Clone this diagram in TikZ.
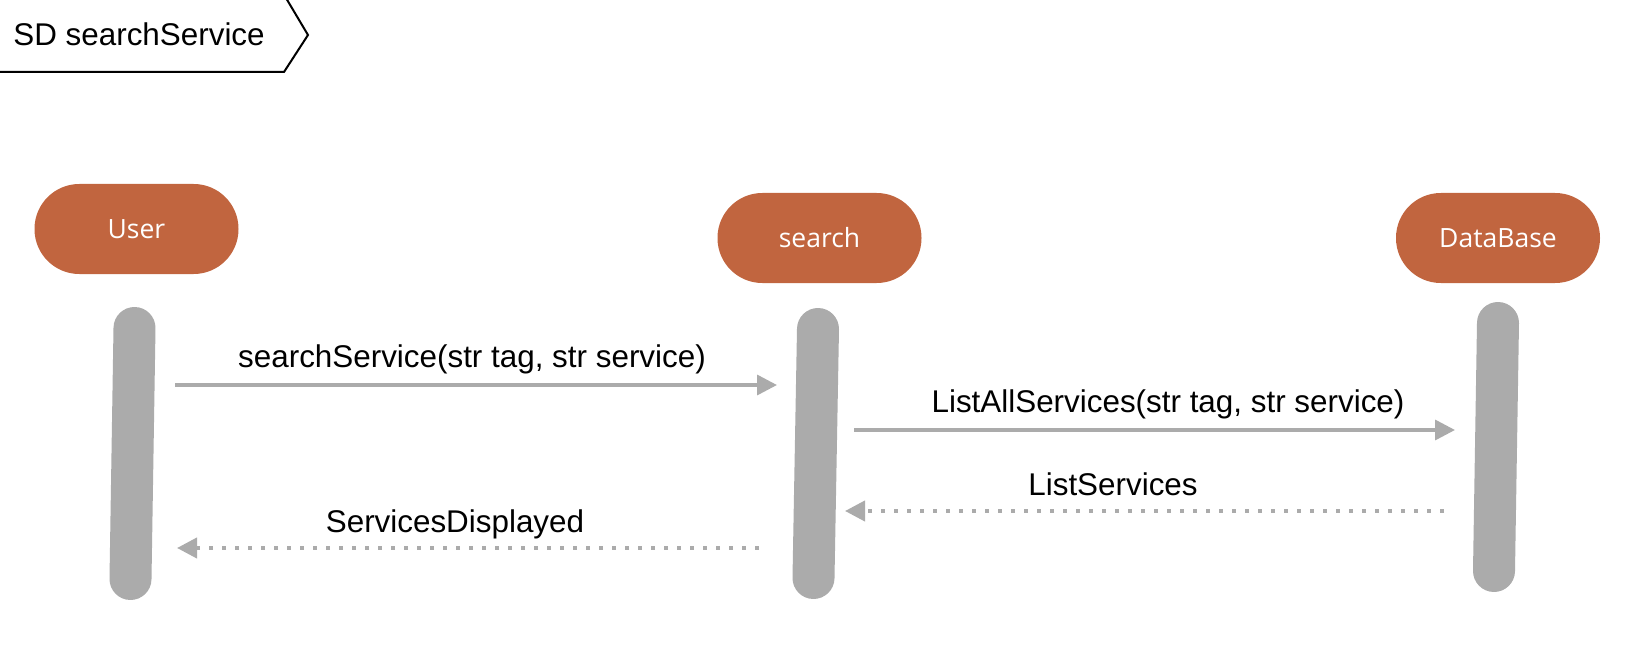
\documentclass[tikz,border=0pt]{standalone}
\usepackage{fontspec}
\setmainfont{Liberation Sans}
\newfontfamily\actorfont{Open Sans}
\usetikzlibrary{arrows.meta, positioning}

\definecolor{actorred}{HTML}{C1653F}
\definecolor{lifegray}{HTML}{ABABAB}

\begin{document}
\begin{tikzpicture}[x=0.5pt, y=-0.5pt,
    actor/.style={rectangle, rounded corners=22.4pt, fill=actorred, text=white,
      minimum width=102pt, minimum height=45pt,
      font=\actorfont\fontsize{13.25}{16}\selectfont},
    lifeline/.style={lifegray, line width=21pt, line cap=round},
    msg/.style={lifegray, line width=1.75pt, -{Triangle[length=10pt, width=10pt]}},
    reply/.style={msg, line width=2pt, dash pattern=on 2pt off 4.5pt},
    lbl/.style={anchor=base, inner sep=0pt, font=\fontsize{15.7}{19}\selectfont}]
    % Frame of the picture
    \path[use as bounding box] (0,0) rectangle (1635,647);

    % Title tab
    \draw[line width=1pt] (0,72) -- (284,72) -- (308,35) -- (286,-2);
    \node[lbl, anchor=base west] (title) at (13,46) {SD searchService};

    % Actors
    \foreach \name/\x/\y/\txt in {user/136.5/229/User, search/819.5/238/search, db/1498/238/DataBase} {
        \node[actor] (\name) at (\x,\y) {\txt};
    }

    % Lifelines
    \foreach \name/\xa/\ya/\xb/\yb in {user/134.5/328/130.5/579, search/818/329/813.5/578, db/1498/323/1494/571} {
        \coordinate (\name top) at (\xa,\ya);
        \coordinate (\name bot) at (\xb,\yb);
        \draw[lifeline] (\name top) -- (\name bot);
    }

    % Messages
    \coordinate (m1a) at (175,385);
    \coordinate (m1b) at (777,385);
    \coordinate (m2a) at (854,430);
    \coordinate (m2b) at (1455,430);
    \coordinate (m3a) at (1444,511);
    \coordinate (m3b) at (845,511);
    \coordinate (m4a) at (759,548);
    \coordinate (m4b) at (177,548);

    \draw[msg] (m1a) -- (m1b);
    \draw[msg] (m2a) -- (m2b);
    \draw[reply] (m3a) -- (m3b);
    \draw[reply] (m4a) -- (m4b);

    \node[lbl] (l1) at (472,367) {searchService(str tag, str service)};
    \node[lbl] (l2) at (1168,412) {ListAllServices(str tag, str service)};
    \node[lbl] (l3) at (1113,495) {ListServices};
    \node[lbl] (l4) at (455,532) {ServicesDisplayed};
\end{tikzpicture}
\end{document}
